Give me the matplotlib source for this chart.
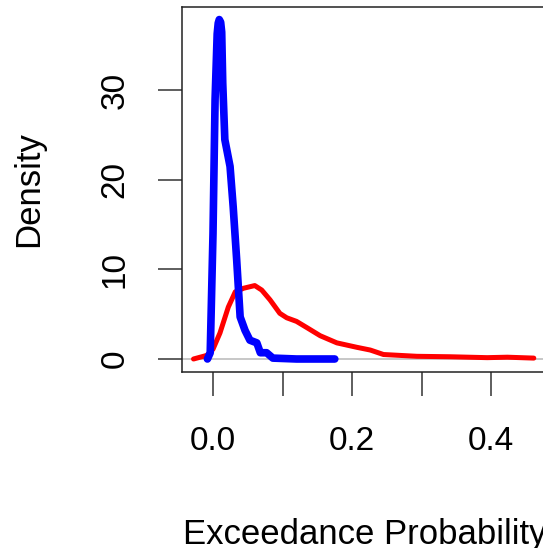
import matplotlib.pyplot as plt

plt.rcParams['font.family'] = ['Liberation Sans', 'DejaVu Sans']

# density curve of the first sample (red)
red_x = [-0.028, -0.009, 0.0, 0.01, 0.022, 0.032, 0.044, 0.06, 0.07, 0.082,
         0.096, 0.106, 0.12, 0.135, 0.154, 0.178, 0.207, 0.226, 0.245, 0.293,
         0.341, 0.394, 0.423, 0.461]
red_y = [0.0, 0.4, 1.1, 2.9, 5.8, 7.5, 7.9, 8.2, 7.7, 6.6,
         5.1, 4.6, 4.2, 3.5, 2.6, 1.8, 1.3, 1.0, 0.5, 0.3,
         0.25, 0.15, 0.2, 0.1]

# density curve of the second sample (blue)
blue_x = [-0.008, -0.004, 0.0, 0.003, 0.006, 0.0075, 0.009, 0.011, 0.0125, 0.014,
          0.017, 0.0245, 0.029, 0.034, 0.039, 0.046, 0.053, 0.063, 0.068, 0.077,
          0.086, 0.12, 0.175]
blue_y = [0.0, 0.7, 14.0, 29.0, 36.3, 37.5, 37.9, 37.6, 36.5, 30.8,
          24.5, 21.5, 17.0, 11.1, 4.7, 3.2, 2.1, 1.8, 0.7, 0.7,
          0.1, 0.0, 0.0]

fig = plt.figure(figsize=(5.43, 5.48), dpi=100)
ax = fig.add_axes([0.3346, 0.3212, 0.6728, 0.666])

ax.axhline(0, color='#bebebe', lw=1.2, zorder=1)
ax.plot(red_x, red_y, color='red', lw=3.6, solid_capstyle='round',
        solid_joinstyle='round', zorder=2)
ax.plot(blue_x, blue_y, color='blue', lw=5.5, solid_capstyle='round',
        solid_joinstyle='round', zorder=3)

ax.set_xlim(-0.045, 0.48)
ax.set_ylim(-1.45, 39.3)

ax.set_xticks([0.0, 0.1, 0.2, 0.3, 0.4])
ax.set_xticklabels(['0.0', '', '0.2', '', '0.4'])
ax.set_yticks([0, 10, 20, 30])
ax.set_yticklabels(['0', '10', '20', '30'], rotation=90, va='center')

ax.tick_params(axis='both', length=17, width=1.1, color='#333333',
               labelsize=24, pad=22)
ax.tick_params(axis='y', pad=20)
for s in ax.spines.values():
    s.set_color('#222222')
    s.set_linewidth(1.1)

ax.set_xlabel('Exceedance Probability', fontsize=25, labelpad=44)
ax.set_ylabel('Density', fontsize=25, labelpad=39)

fig.savefig('out.png', dpi=100)
